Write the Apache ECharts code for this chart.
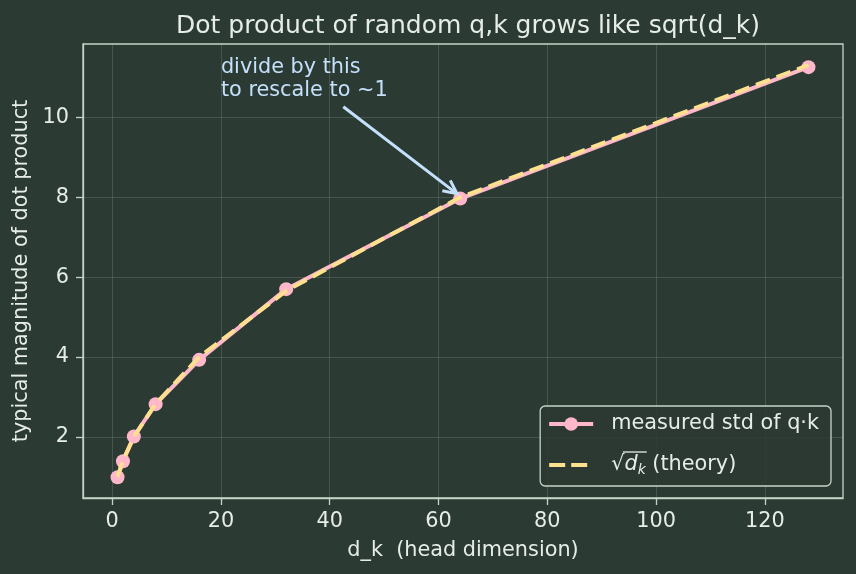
<!DOCTYPE html>
<html><head><meta charset="utf-8">
<script src="https://cdn.jsdelivr.net/npm/echarts@6/dist/echarts.min.js"></script>
<style>html,body{margin:0;padding:0;background:#2b3a33}#c{width:856px;height:574px}</style>
</head><body><div id="c"></div>
<script>
const dk = [1, 2, 4, 8, 16, 32, 64, 128];
const measured = [0.99, 1.39, 2.01, 2.82, 3.93, 5.70, 7.97, 11.26];
const theory = [1.000, 1.414, 2.000, 2.828, 4.000, 5.657, 8.000, 11.314];
const xTicks = [0, 20, 40, 60, 80, 100, 120];
const yTicks = [2, 4, 6, 8, 10];
const annText = ['divide by this', 'to rescale to ~1'];
const annAt = [20, 10.5];
const arrowFrom = [42.5, 10.27];
const arrowTo = [63.4, 8.09];
const legendNames = ['measured std of q\u00b7k', 'theory'];

const FG = '#e6ece6';
const SPINE = '#c6d4c8';
const PINK = '#ffb7c9';
const YEL = '#ffe08e';
const BLUE = '#c4e0fa';
const FONT = 'DejaVu Sans';
const FS = 20.8;

const chart = echarts.init(document.getElementById('c'), null, {renderer: 'canvas'});
const LEG = {right: 25, bottom: 88, padL: 7, padR: 12, padT: 6, padB: 9, itemW: 44, itemH: 17, gap: 17, txtPad: 13};
const option = {
  backgroundColor: '#2b3a33',
  animation: false,
  textStyle: {fontFamily: FONT},
  title: {
    text: 'Dot product of random q,k grows like sqrt(d_k)',
    left: 463, textAlign: 'center', top: 9,
    textStyle: {color: FG, fontSize: 25, fontWeight: 'normal', fontFamily: FONT}
  },
  grid: {left: 83, right: 13, top: 44, bottom: 76, show: true, borderColor: SPINE, borderWidth: 1.3, backgroundColor: 'transparent'},
  xAxis: {
    type: 'value', min: -5.35, max: 134.35,
    name: 'd_k  (head dimension)', nameLocation: 'middle', nameGap: 42,
    nameTextStyle: {color: FG, fontSize: FS, fontFamily: FONT},
    axisLine: {show: true, onZero: false, lineStyle: {color: SPINE, width: 1.3}},
    axisTick: {show: true, inside: false, length: 7, lineStyle: {color: SPINE, width: 1.3}, customValues: xTicks},
    axisLabel: {color: FG, fontSize: FS, margin: 13, fontFamily: FONT, customValues: xTicks},
    splitLine: {show: true, lineStyle: {color: 'rgba(230,240,230,0.15)', width: 1}}
  },
  yAxis: {
    type: 'value', min: 0.47, max: 11.84,
    name: 'typical magnitude of dot product', nameLocation: 'middle', nameGap: 48, nameRotate: 90,
    nameTextStyle: {color: FG, fontSize: FS, fontFamily: FONT},
    axisLine: {show: true, onZero: false, lineStyle: {color: SPINE, width: 1.3}},
    axisTick: {show: true, inside: false, length: 7, lineStyle: {color: SPINE, width: 1.3}, customValues: yTicks},
    axisLabel: {color: FG, fontSize: FS, margin: 14, fontFamily: FONT, customValues: yTicks},
    splitLine: {show: true, lineStyle: {color: 'rgba(230,240,230,0.15)', width: 1}}
  },
  legend: {
    orient: 'vertical', right: LEG.right, bottom: LEG.bottom,
    padding: [LEG.padT, LEG.padR, LEG.padB, LEG.padL], itemGap: LEG.gap, itemWidth: LEG.itemW, itemHeight: LEG.itemH,
    backgroundColor: 'rgba(43,58,51,0.85)', borderColor: SPINE, borderWidth: 1.3, borderRadius: 5,
    textStyle: {color: FG, fontSize: FS, fontFamily: FONT, padding: [0, 0, 0, LEG.txtPad], lineHeight: 24,
      rich: {
        sq: {color: FG, fontSize: FS, fontFamily: FONT},
        d: {color: FG, fontSize: FS, fontStyle: 'italic', fontFamily: FONT},
        k: {color: FG, fontSize: 14, fontStyle: 'italic', fontFamily: FONT, padding: [10, 0, 0, 0]},
        t: {color: FG, fontSize: FS, fontFamily: FONT}
      }},
    formatter: function (n) {
      if (n === 'theory') return '{sq|\u221a}{d|d}{k|k}{t| (theory)}';
      return n;
    },
    data: [
      {name: legendNames[0], lineStyle: {width: 4}},
      {name: legendNames[1], lineStyle: {width: 4, type: [16, 6]}, itemStyle: {opacity: 0, color: 'rgba(0,0,0,0)'}}
    ]
  },
  series: [
    {
      name: legendNames[0], type: 'line',
      data: dk.map((x, i) => [x, measured[i]]),
      symbol: 'circle', symbolSize: 14,
      lineStyle: {color: PINK, width: 4},
      itemStyle: {color: PINK},
      z: 2
    },
    {
      name: legendNames[1], type: 'line',
      data: dk.map((x, i) => [x, theory[i]]),
      symbol: 'none',
      lineStyle: {color: YEL, width: 4, type: [15, 7]},
      itemStyle: {color: YEL},
      z: 3
    }
  ]
};
chart.setOption(option);

const p0 = chart.convertToPixel({gridIndex: 0}, arrowFrom);
const p1 = chart.convertToPixel({gridIndex: 0}, arrowTo);
const ta = chart.convertToPixel({gridIndex: 0}, annAt);
const dx = p1[0] - p0[0], dy = p1[1] - p0[1];
const L = Math.sqrt(dx * dx + dy * dy);
const ux = dx / L, uy = dy / L;
const hl = 15, ang = 0.45;
const c = Math.cos(ang), s = Math.sin(ang);
const h1 = [p1[0] - hl * (ux * c - uy * s), p1[1] - hl * (uy * c + ux * s)];
const h2 = [p1[0] - hl * (ux * c + uy * s), p1[1] - hl * (uy * c - ux * s)];

// overline of the sqrt in the legend, placed from measured text widths
const mc = document.createElement('canvas').getContext('2d');
mc.font = FS + 'px "DejaVu Sans"';
const wMax = mc.measureText(legendNames[0]).width;
const wSq = mc.measureText('\u221a').width;
mc.font = 'italic ' + FS + 'px "DejaVu Sans"';
const wD = mc.measureText('d').width;
mc.font = 'italic 14px "DejaVu Sans"';
const wK = mc.measureText('k').width;
const W = chart.getWidth(), H = chart.getHeight();
const txtX = W - LEG.right - LEG.padR - wMax;
const row2 = H - LEG.bottom - LEG.padB - 12;
const olY = row2 - 13;

chart.setOption({
  graphic: [
    {type: 'line', shape: {x1: p0[0], y1: p0[1], x2: p1[0] - ux * 1.5, y2: p1[1] - uy * 1.5}, style: {stroke: BLUE, lineWidth: 3}, z: 10},
    {type: 'polyline', shape: {points: [h1, p1, h2]}, style: {stroke: BLUE, lineWidth: 3, fill: null, lineJoin: 'miter'}, z: 10},
    {type: 'text', x: ta[0], y: ta[1] + 5, style: {text: annText.join('\n'), fill: BLUE, font: FS + 'px "DejaVu Sans"', textAlign: 'left', textVerticalAlign: 'bottom', lineHeight: 23}, z: 10},
    {type: 'line', shape: {x1: txtX + wSq - 1.5, y1: olY, x2: txtX + wSq + wD + wK + 1, y2: olY}, style: {stroke: FG, lineWidth: 1.3}, z: 20}
  ]
});
</script></body></html>
